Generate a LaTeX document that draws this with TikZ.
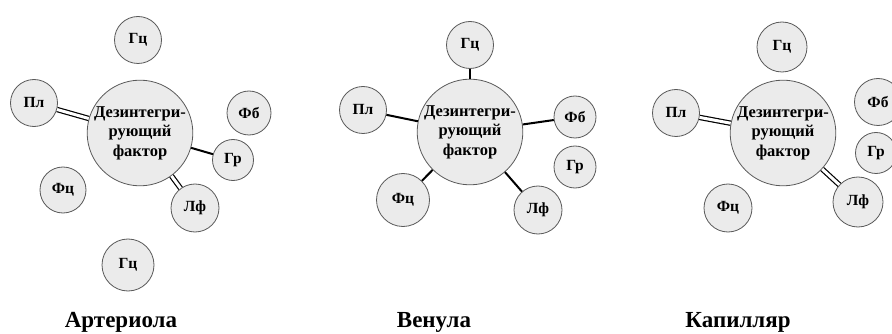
\documentclass[tikz,border=0pt]{standalone}
\usepackage{fontspec}
\setmainfont{Liberation Serif}
\begin{document}
\begin{tikzpicture}[x=1pt,y=-1pt,
  cell/.style={circle,draw=black!65,line width=0.8pt,fill=black!8,inner sep=0pt,
    font=\bfseries\fontsize{15.5}{15.5}\selectfont},
  hub/.style={cell,minimum size=102pt,align=center,
    font=\bfseries\fontsize{16.5}{19.5}\selectfont},
  single/.style={line width=2pt,black},
  pair/.style={double=white,double distance=3pt,line width=1.2pt,black},
  caption/.style={font=\bfseries\fontsize{23}{23}\selectfont}]
\useasboundingbox (0,0) rectangle (892,334);
\clip (0,0) rectangle (892,334);

% --- Arteriole
\node[hub] (a) at (140,133) {Дезинтегри-\\рующий\\фактор};
\node[cell,minimum size=47pt] (agt) at (138,40) {Гц};
\node[cell,minimum size=47pt] (apl) at (34,103) {Пл};
\node[cell,minimum size=44pt] (afb) at (249,113) {Фб};
\node[cell,minimum size=41pt] (agr) at (233,160) {Гр};
\node[cell,minimum size=46pt] (afc) at (63,190) {Фц};
\node[cell,minimum size=48pt] (alf) at (195,208) {Лф};
\node[cell,minimum size=52pt] (agb) at (128,265) {Гц};
\draw[pair] (a) -- (apl);
\draw[single] (a) -- (agr);
\draw[pair] (a) -- (alf);
\node[caption] (ta) at (121,322) {Артериола};

% --- Venule
\node[hub] (v) at (470,132) {Дезинтегри-\\рующий\\фактор};
\node[cell,minimum size=47pt] (vgt) at (470,45) {Гц};
\node[cell,minimum size=47pt] (vpl) at (363,110) {Пл};
\node[cell,minimum size=42pt] (vfb) at (575,117) {Фб};
\node[cell,minimum size=42pt] (vgr) at (575,167) {Гр};
\node[cell,minimum size=53pt] (vfc) at (403,200) {Фц};
\node[cell,minimum size=48pt] (vlf) at (538,210) {Лф};
\draw[single] (v) -- (vgt);
\draw[single] (v) -- (vpl);
\draw[single] (v) -- (vfb);
\draw[single] (v) -- (vfc);
\draw[single] (v) -- (vlf);
\node[caption] (tv) at (434,322) {Венула};

% --- Capillary
\node[hub] (k) at (783,133) {Дезинтегри-\\рующий\\фактор};
\node[cell,minimum size=50pt] (kgt) at (782,47) {Гц};
\node[cell,minimum size=47pt] (kpl) at (676,113) {Пл};
\node[cell,minimum size=47pt] (kfb) at (878,102) {Фб};
\node[cell,minimum size=41pt] (kgr) at (876,153) {Гр};
\node[cell,minimum size=48pt] (kfc) at (728,208) {Фц};
\node[cell,minimum size=50pt] (klf) at (858,202) {Лф};
\draw[pair] (k) -- (kpl);
\draw[pair] (k) -- (klf);
\node[caption] (tk) at (738,322) {Капилляр};
\end{tikzpicture}
\end{document}
